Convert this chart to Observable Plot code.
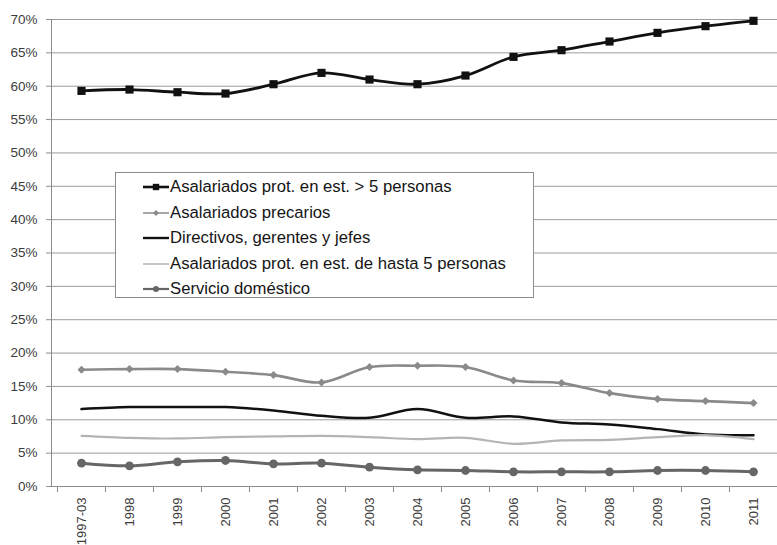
<!DOCTYPE html>
<html>
<head>
<meta charset="utf-8">
<script src="https://cdn.jsdelivr.net/npm/d3@7"></script>
<script src="https://cdn.jsdelivr.net/npm/@observablehq/plot@0.6"></script>
<style>
  body { margin: 0; background: #fff; font-family: "Liberation Sans", Arial, sans-serif; }
  #wrap { position: relative; width: 777px; height: 545px; overflow: hidden; }
  #legend {
    position: absolute; left: 115px; top: 172px; width: 417px; height: 124px;
    border: 1px solid #8c8c8c; background: #fff; box-sizing: content-box;
  }
  .row { position: absolute; left: 27px; height: 20px; display: flex; align-items: center; }
  .row span { font-size: 16.7px; color: #151515; white-space: nowrap; margin-left: 1px; }
</style>
</head>
<body>
<div id="wrap"></div>
<script>
// Years on the horizontal axis
const years = ["1997-03", "1998", "1999", "2000", "2001", "2002", "2003", "2004",
               "2005", "2006", "2007", "2008", "2009", "2010", "2011"];

// Share of employment by category (%)
const protMas5   = [59.3, 59.5, 59.1, 58.9, 60.3, 62.0, 61.0, 60.3, 61.6, 64.4, 65.4, 66.7, 68.0, 69.0, 69.8];
const precarios  = [17.5, 17.6, 17.6, 17.2, 16.7, 15.6, 17.9, 18.1, 17.9, 15.9, 15.5, 14.0, 13.1, 12.8, 12.5];
const directivos = [11.6, 11.9, 11.9, 11.9, 11.4, 10.6, 10.3, 11.6, 10.3, 10.5, 9.6, 9.3, 8.6, 7.8, 7.7];
const protHasta5 = [7.6, 7.3, 7.2, 7.4, 7.5, 7.6, 7.4, 7.1, 7.3, 6.4, 6.9, 7.0, 7.4, 7.7, 7.1];
const domestico  = [3.5, 3.1, 3.7, 3.9, 3.4, 3.5, 2.9, 2.5, 2.4, 2.2, 2.2, 2.2, 2.4, 2.4, 2.2];

// Vertical axis ticks (%)
const yTicks = [0, 5, 10, 15, 20, 25, 30, 35, 40, 45, 50, 55, 60, 65, 70];

// Series names and their drawing styles
const seriesNames = [
  "Asalariados prot. en est. > 5 personas",
  "Asalariados precarios",
  "Directivos, gerentes y jefes",
  "Asalariados prot. en est. de hasta 5 personas",
  "Servicio doméstico"
];
const seriesValues = [protMas5, precarios, directivos, protHasta5, domestico];
const seriesStyles = [
  {stroke: "#111111", width: 2.8, symbol: "square",   r: 4.6, legendR: 3.6, legendW: 2.6},
  {stroke: "#8a8a8a", width: 2.6, symbol: "diamond2", r: 3.6, legendR: 2.4, legendW: 1.5},
  {stroke: "#111111", width: 2.5, symbol: null,       r: 0,   legendR: 0,   legendW: 2.4},
  {stroke: "#b4b4b4", width: 2.2, symbol: null,       r: 0,   legendR: 0,   legendW: 1.5},
  {stroke: "#666666", width: 3.0, symbol: "circle",   r: 4.4, legendR: 3.0, legendW: 2.2}
];

const series = seriesNames.map((name, i) => ({
  name,
  style: seriesStyles[i],
  data: years.map((year, j) => ({year, value: seriesValues[i][j]}))
}));

const lineMarks = series.map(s =>
  Plot.line(s.data, {
    x: "year", y: "value", curve: "catmull-rom",
    stroke: s.style.stroke, strokeWidth: s.style.width
  })
);
const dotMarks = series.filter(s => s.style.symbol).map(s =>
  Plot.dot(s.data, {
    x: "year", y: "value", symbol: s.style.symbol, r: s.style.r,
    fill: s.style.stroke, stroke: "none"
  })
);

const chart = Plot.plot({
  width: 777,
  height: 545,
  marginLeft: 51,
  marginTop: 19,
  marginBottom: 59,
  marginRight: 0,
  style: {fontFamily: "'Liberation Sans', Arial, sans-serif", fontSize: "13.5px", color: "#3c3c3c", background: "#fff"},
  x: {type: "point", domain: years, range: [51, 782], padding: 0.5, label: null},
  y: {domain: [0, 70], label: null},
  marks: [
    Plot.gridY(yTicks, {stroke: "#9c9c9c", strokeOpacity: 1}),
    Plot.axisY(yTicks, {tickSize: 5, tickPadding: 9, tickFormat: d => d + "%", stroke: "#8c8c8c", label: null}),
    Plot.axisX({tickSize: 0, tickPadding: 11, tickRotate: -90, label: null, fontSize: 13}),
    Plot.ruleY([0], {stroke: "#8c8c8c"}),
    ...lineMarks,
    ...dotMarks
  ]
});

document.getElementById("wrap").appendChild(chart);

// Axis line and category-boundary ticks, placed with the chart's own scales
const xs = chart.scale("x");
const ys = chart.scale("y");
const step = xs.apply(years[1]) - xs.apply(years[0]);
const y0 = ys.apply(0);
const svg = d3.select(chart);
const deco = svg.append("g").attr("stroke", "#8c8c8c").attr("stroke-width", 1).attr("shape-rendering", "crispEdges");
deco.append("line")
  .attr("x1", xs.range[0] + 0.5).attr("x2", xs.range[0] + 0.5)
  .attr("y1", ys.apply(70)).attr("y2", y0);
const bounds = years.map(y => xs.apply(y) - step / 2).concat([xs.apply(years[years.length - 1]) + step / 2]);
deco.selectAll(".bt").data(bounds).join("line")
  .attr("x1", d => Math.round(d) + 0.5).attr("x2", d => Math.round(d) + 0.5)
  .attr("y1", y0).attr("y2", y0 + 6);

// Legend box drawn over the plot area
const legend = d3.select("#wrap").append("div").attr("id", "legend");
series.forEach((s, i) => {
  const row = legend.append("div").attr("class", "row").style("top", (4 + i * 25.5) + "px");
  const sv = row.append("svg").attr("width", 26).attr("height", 20);
  sv.append("line").attr("x1", 0).attr("x2", 26).attr("y1", 10).attr("y2", 10)
    .attr("stroke", s.style.stroke).attr("stroke-width", s.style.legendW);
  if (s.style.symbol) {
    const symMap = {square: d3.symbolSquare, diamond2: d3.symbolSquare, circle: d3.symbolCircle};
    const size = Math.PI * s.style.legendR * s.style.legendR;
    sv.append("path")
      .attr("d", d3.symbol(symMap[s.style.symbol], size)())
      .attr("transform", "translate(13,10)" + (s.style.symbol === "diamond2" ? " rotate(45)" : ""))
      .attr("fill", s.style.stroke);
  }
  row.append("span").text(s.name);
});
</script>
</body>
</html>
